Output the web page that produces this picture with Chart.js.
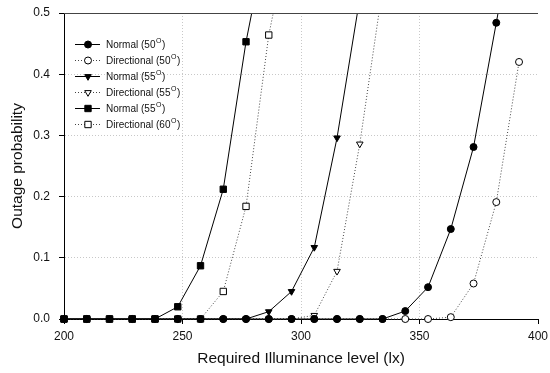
<!DOCTYPE html>
<html>
<head>
<meta charset="utf-8">
<script src="https://cdn.jsdelivr.net/npm/chart.js@4"></script>
<style>
  body { margin: 0; background: #fff; }
  canvas { display: block; }
</style>
</head>
<body>
<canvas id="outageChart" width="550" height="373"></canvas>
<script>
  // illuminance levels (lx) where each curve was sampled
  const illuminance = [200, 209.6, 219.2, 228.8, 238.4, 248, 257.6, 267.2, 276.8, 286.4, 296,
    305.6, 315.2, 324.8, 334.4, 344, 353.6, 363.2, 372.8, 382.4, 392];

  // outage probability per series (null = not plotted)
  const normal50 = [0, 0, 0, 0, 0, 0, 0, 0, 0, 0, 0, 0, 0, 0, 0, 0.013, 0.052, 0.147, 0.281, 0.484, 0.69];
  const directional50 = [0, 0, 0, 0, 0, 0, 0, 0, 0, 0, 0, 0, 0, 0, 0, 0, 0, 0.003, 0.058, 0.191, 0.42];
  const normal55 = [0, 0, 0, 0, 0, 0, 0, 0, 0, 0.012, 0.045, 0.117, 0.296, 0.524, null, null, null, null, null, null, null];
  const directional55 = [0, 0, 0, 0, 0, 0, 0, 0, 0, 0, 0, 0.006, 0.078, 0.286, 0.54, null, null, null, null, null, null];
  const normal60 = [0, 0, 0, 0, 0, 0.02, 0.087, 0.212, 0.453, 0.64, null, null, null, null, null, null, null, null, null, null, null];
  const directional60 = [0, 0, 0, 0, 0, 0, 0, 0.045, 0.184, 0.464, 0.646, null, null, null, null, null, null, null, null, null, null];

  const seriesNames = ['Normal (50', 'Directional (50', 'Normal (55', 'Directional (55', 'Normal (55', 'Directional (60'];
  const xTicks = [200, 250, 300, 350, 400];
  const yTicks = [0, 0.1, 0.2, 0.3, 0.4, 0.5];

  const FONT = "'Liberation Sans', Arial, sans-serif";

  const toPoints = arr => illuminance
    .map((x, i) => ({ x: x, y: arr[i] }))
    .filter(p => p.y !== null);

  const solid = { borderColor: '#000', borderWidth: 1, borderDash: [] };
  const dotted = { borderColor: '#444', borderWidth: 1, borderDash: [1, 2] };

  const makeSet = (label, arr, line, style, filled, radius, rotation) => Object.assign({
    label: label,
    data: toPoints(arr),
    pointStyle: style,
    pointRadius: radius,
    pointRotation: rotation || 0,
    pointBackgroundColor: filled ? '#000' : '#fff',
    pointBorderColor: '#000',
    pointBorderWidth: 1,
    backgroundColor: filled ? '#000' : '#fff',
    tension: 0,
    clip: { left: 6, right: 6, top: 0, bottom: 6 }
  }, line);

  const datasets = [
    makeSet(seriesNames[0], normal50, solid, 'circle', true, 3.5),
    makeSet(seriesNames[1], directional50, dotted, 'circle', false, 3.5),
    makeSet(seriesNames[2], normal55, solid, 'triangle', true, 3.8, 180),
    makeSet(seriesNames[3], directional55, dotted, 'triangle', false, 3.8, 180),
    makeSet(seriesNames[4], normal60, solid, 'rect', true, 4.5),
    makeSet(seriesNames[5], directional60, dotted, 'rect', false, 4.5)
  ];

  // top frame line + legend inside the plot
  const framePlugin = {
    id: 'framePlugin',
    afterDraw(chart) {
      const ctx = chart.ctx;
      const a = chart.chartArea;
      ctx.save();
      ctx.strokeStyle = '#444';
      ctx.lineWidth = 1;
      ctx.beginPath();
      ctx.moveTo(a.left, a.top + 0.5);
      ctx.lineTo(a.right, a.top + 0.5);
      ctx.stroke();

      const rowY0 = 44, rowGap = 16;
      chart.data.datasets.forEach((ds, i) => {
        const y = rowY0 + i * rowGap;
        ctx.save();
        ctx.strokeStyle = ds.borderColor;
        ctx.lineWidth = 1;
        ctx.setLineDash(ds.borderDash);
        ctx.beginPath();
        ctx.moveTo(75, y + 0.5);
        ctx.lineTo(100, y + 0.5);
        ctx.stroke();
        ctx.restore();

        ctx.save();
        ctx.fillStyle = ds.pointBackgroundColor;
        ctx.strokeStyle = '#000';
        ctx.lineWidth = 1;
        Chart.helpers.drawPoint(ctx, {
          pointStyle: ds.pointStyle,
          radius: ds.pointRadius,
          rotation: ds.pointRotation,
          borderWidth: 1
        }, 88, y + 0.5);
        ctx.restore();

        ctx.fillStyle = '#111';
        ctx.textBaseline = 'middle';
        ctx.textAlign = 'left';
        ctx.font = '10px ' + FONT;
        ctx.fillText(ds.label, 106, y + 1);
        let w = ctx.measureText(ds.label).width;
        ctx.font = '7px ' + FONT;
        ctx.fillText('O', 106 + w + 0.5, y - 3);
        w += ctx.measureText('O').width + 1;
        ctx.font = '10px ' + FONT;
        ctx.fillText(')', 106 + w, y + 1);
      });
      ctx.restore();
    }
  };

  new Chart(document.getElementById('outageChart'), {
    type: 'line',
    data: { datasets: datasets },
    options: {
      responsive: false,
      animation: false,
      devicePixelRatio: 1,
      layout: { padding: { left: 0, right: 12, top: 13, bottom: 0 } },
      plugins: {
        legend: { display: false },
        tooltip: { enabled: false }
      },
      scales: {
        x: {
          type: 'linear',
          min: 200,
          max: 400,
          afterBuildTicks: s => { s.ticks = xTicks.map(v => ({ value: v })); },
          afterFit: s => { s.height = 54; s.paddingLeft = 0; s.paddingRight = 0; },
          ticks: {
            color: '#111',
            font: { family: FONT, size: 12 },
            padding: 5,
            maxRotation: 0
          },
          grid: {
            color: c => (c.tick && (c.tick.value === 250 || c.tick.value === 300 || c.tick.value === 350)) ? '#c8c8c8' : 'rgba(0,0,0,0)',
            tickColor: '#000',
            tickLength: 5,
            lineWidth: 1
          },
          border: { display: true, color: '#000', width: 1, dash: [1, 2] },
          title: {
            display: true,
            text: 'Required Illuminance level (lx)',
            color: '#111',
            font: { family: FONT, size: 15.5 },
            padding: { top: 0, bottom: 5 }
          }
        },
        y: {
          min: 0,
          max: 0.5,
          afterBuildTicks: s => { s.ticks = yTicks.map(v => ({ value: v })); },
          afterFit: s => { s.width = 64; s.paddingTop = 0; s.paddingBottom = 0; },
          ticks: {
            color: '#111',
            font: { family: FONT, size: 12 },
            padding: 9,
            callback: v => v.toFixed(1)
          },
          grid: {
            color: c => (c.tick && c.tick.value > 0 && c.tick.value < 0.5) ? '#c8c8c8' : 'rgba(0,0,0,0)',
            tickColor: '#000',
            tickLength: 5,
            lineWidth: 1
          },
          border: { display: true, color: '#000', width: 1, dash: [1, 2] },
          title: {
            display: true,
            text: 'Outage probability',
            color: '#111',
            font: { family: FONT, size: 15.5 },
            padding: { top: 8, bottom: 0 }
          }
        }
      }
    },
    plugins: [framePlugin]
  });
</script>
</body>
</html>
